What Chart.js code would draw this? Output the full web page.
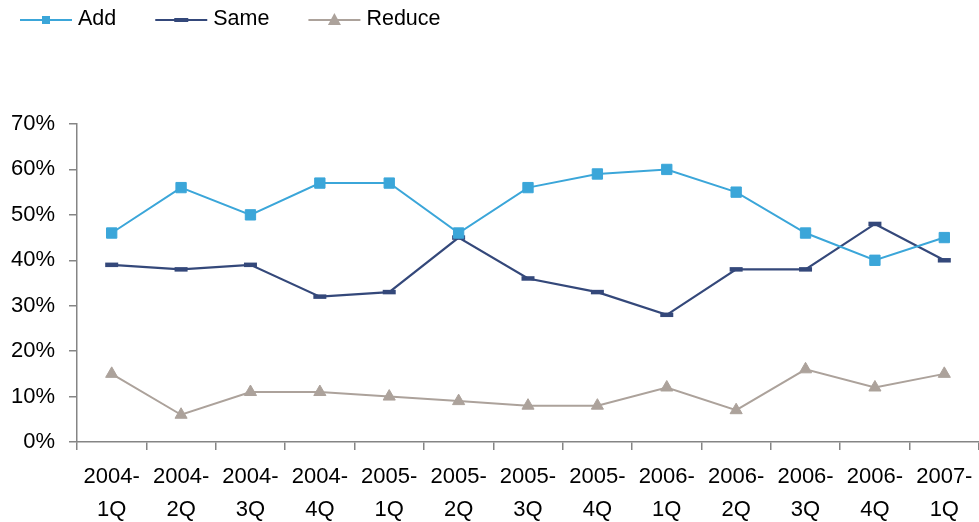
<!DOCTYPE html>
<html>
<head>
<meta charset="utf-8">
<script src="https://cdn.jsdelivr.net/npm/chart.js@4.4.1/dist/chart.umd.min.js"></script>
<style>
  body { margin: 0; background: #fff; }
  #wrap { width: 979px; height: 522px; }
</style>
</head>
<body>
<div id="wrap"><canvas id="trendChart" width="979" height="522"></canvas></div>
<script>
const quarters = [
  ["2004-", "1Q"], ["2004-", "2Q"], ["2004-", "3Q"], ["2004-", "4Q"],
  ["2005-", "1Q"], ["2005-", "2Q"], ["2005-", "3Q"], ["2005-", "4Q"],
  ["2006-", "1Q"], ["2006-", "2Q"], ["2006-", "3Q"], ["2006-", "4Q"],
  ["2007-", "1Q"]
]
const addValues = [46, 56, 50, 57, 57, 46, 56, 59, 60, 55, 46, 40, 45]
const sameValues = [39, 38, 39, 32, 33, 45, 36, 33, 28, 38, 38, 48, 40]
const reduceValues = [15, 6, 11, 11, 10, 9, 8, 8, 12, 7, 16, 12, 15]
const yTicks = [0, 10, 20, 30, 40, 50, 60, 70]

const FONT = "'Liberation Sans', Arial, sans-serif"
const axisGrey = "#858585"

// little legend drawn on the canvas: line with the marker in the middle
const lineLegend = {
  id: "lineLegend",
  afterDraw(chart) {
    const c = chart.ctx
    let x = 20
    const y = 20
    c.save()
    c.font = "21.5px " + FONT
    c.textBaseline = "middle"
    chart.data.datasets.forEach(ds => {
      c.strokeStyle = ds.borderColor
      c.lineWidth = 2
      c.beginPath()
      c.moveTo(x, y)
      c.lineTo(x + 52, y)
      c.stroke()
      const mx = x + 26
      c.fillStyle = ds.pointBackgroundColor
      if (ds.pointStyle === "rect") {
        c.fillRect(mx - 4, y - 4, 8, 8)
      } else if (ds.pointStyle === "line") {
        c.fillRect(mx - 7, y - 2, 14, 4)
      } else {
        c.beginPath()
        c.moveTo(mx, y - 7)
        c.lineTo(mx + 6.5, y + 5)
        c.lineTo(mx - 6.5, y + 5)
        c.closePath()
        c.fill()
      }
      c.fillStyle = "#000"
      c.fillText(ds.label, x + 58, y - 1)
      x += 58 + c.measureText(ds.label).width + 39
    })
    c.restore()
  }
}

const trendChart = new Chart(document.getElementById("trendChart"), {
  type: "line",
  data: {
    labels: quarters,
    datasets: [
      {
        label: "Add",
        data: addValues,
        borderColor: "#3BA6D9",
        backgroundColor: "#3BA6D9",
        pointBackgroundColor: "#3BA6D9",
        pointBorderColor: "#3BA6D9",
        borderWidth: 2,
        pointStyle: "rect",
        pointRadius: 7.3,
        pointBorderWidth: 1
      },
      {
        label: "Same",
        data: sameValues,
        borderColor: "#34487A",
        backgroundColor: "#34487A",
        pointBackgroundColor: "#34487A",
        pointBorderColor: "#34487A",
        borderWidth: 2.2,
        pointStyle: "line",
        pointRadius: 6.5,
        pointBorderWidth: 4.5
      },
      {
        label: "Reduce",
        data: reduceValues,
        borderColor: "#ACA29B",
        backgroundColor: "#ACA29B",
        pointBackgroundColor: "#ACA29B",
        pointBorderColor: "#ACA29B",
        borderWidth: 2,
        pointStyle: "triangle",
        pointRadius: 7,
        pointBorderWidth: 1
      }
    ]
  },
  options: {
    responsive: false,
    animation: false,
    layout: { autoPadding: false, padding: { top: 124, right: 0, left: 0, bottom: 0 } },
    plugins: {
      legend: { display: false },
      tooltip: { enabled: false }
    },
    scales: {
      x: {
        offset: true,
        grid: {
          offset: true,
          drawOnChartArea: false,
          tickLength: 8,
          color: axisGrey,
          lineWidth: 1.5
        },
        border: { color: axisGrey, width: 1.5 },
        ticks: {
          color: "#000",
          padding: 10,
          maxRotation: 0,
          autoSkip: false,
          font: { family: FONT, size: 22, lineHeight: 1.5 }
        },
        afterFit(scale) {
          scale.height = 80
          scale.paddingLeft = 0
          scale.paddingRight = 0
        }
      },
      y: {
        min: 0,
        max: 70,
        afterBuildTicks(scale) { scale.ticks = yTicks.map(v => ({ value: v })) },
        grid: {
          drawOnChartArea: false,
          tickLength: 8,
          color: axisGrey,
          lineWidth: 1.5
        },
        border: { color: axisGrey, width: 1.5 },
        ticks: {
          color: "#000",
          padding: 14,
          font: { family: FONT, size: 22 },
          callback: v => v + "%"
        },
        afterFit(scale) { scale.width = 77 }
      }
    }
  },
  plugins: [lineLegend]
})
</script>
</body>
</html>
